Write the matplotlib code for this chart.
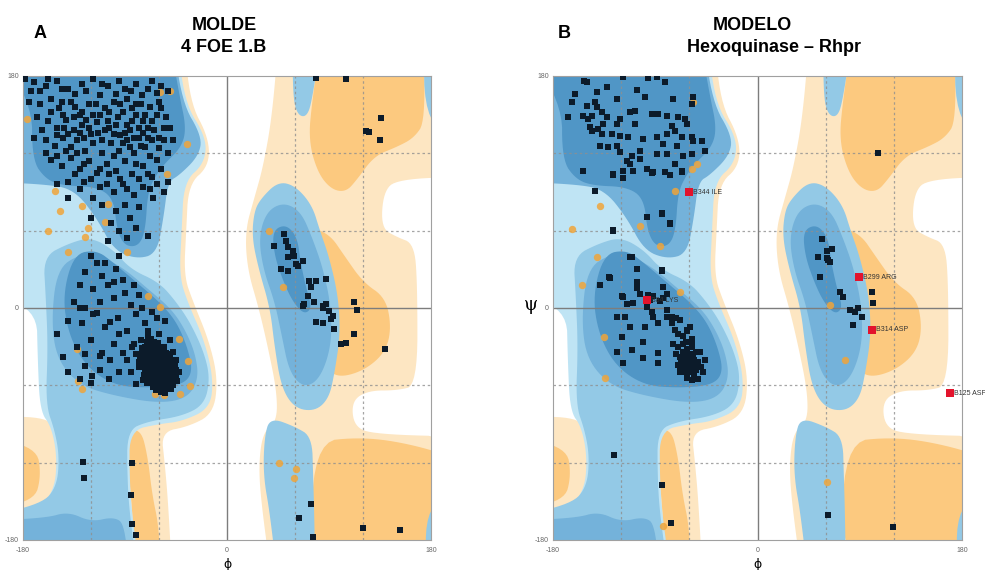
import numpy as np
import matplotlib
matplotlib.use("Agg")
import matplotlib.pyplot as plt
from matplotlib.patches import Polygon

# ---------------- DATA ----------------
panel_letters = ["A", "B"]
panel_titles = [["MOLDE", "4 FOE 1.B"], ["MODELO", "Hexoquinase \u2013 Rhpr"]]
axis_ticks = [-180, 0, 180]
grid_dashed = [-120, -60, 60, 120]

# background regions (phi, psi) shared by both panels
LO_a = [(46,180),(180,180),(180,102),(150,100),(138,90),(136,62),(150,55),(165,50),(168,20),(168,-60),(150,-64),(125,-64),(110,-72),(112,-92),(130,-98),(180,-100),(180,-180),(40,-180),(30,-150),(28,-120),(32,-96),(44,-88),(44,-65),(36,-30),(28,0),(18,30),(16,60),(24,85),(32,110),(40,150)]
LO_b = [(-44,180),(-38,180),(-33,160),(-16,132),(-16,110),(-34,96),(-36,60),(-38,25),(-30,5),(-16,-25),(-8,-55),(-12,-82),(-34,-92),(-58,-96),(-55,-120),(-52,-150),(-48,-180),(-100,-180),(-100,180)]
LO_d = [(-180,-85),(-162,-84),(-148,-95),(-145,-120),(-148,-145),(-165,-160),(-180,-165)]
O_a = [(84,180),(173,180),(175,145),(165,132),(150,125),(130,118),(115,100),(105,90),(92,92),(80,105),(72,130),(75,160)]
O_b = [(68,64),(90,58),(104,40),(120,20),(140,8),(145,-15),(140,-34),(122,-48),(100,-54),(88,-48),(80,-20),(72,20)]
O_c = [(-90,-96),(-76,-94),(-70,-115),(-66,-145),(-60,-170),(-58,-180),(-80,-180),(-84,-150),(-88,-120)]
O_d = [(-180,-100),(-168,-108),(-164,-130),(-170,-150),(-180,-156)]
O_e = [(75,-104),(120,-100),(165,-106),(180,-120),(180,-180),(75,-180)]
ENVELOPE = [(-180,180),(-44,180),(-38,160),(-18,132),(-20,112),(-38,98),(-40,60),(-42,25),(-35,5),(-20,-25),(-12,-55),(-15,-78),(-40,-88),(-60,-90),(-86,-95),(-86,-130),(-84,-160),(-75,-180),(-180,-180),(-180,-162),(-165,-155),(-152,-140),(-150,-115),(-155,-92),(-165,-80),(-167,-40),(-168,0),(-180,10)]
ALPHA_OUTER = [(-162,40),(-140,50),(-120,55),(-100,45),(-85,30),(-60,20),(-45,5),(-32,-12),(-20,-35),(-15,-55),(-20,-75),(-40,-84),(-70,-88),(-88,-95),(-88,-130),(-86,-160),(-77,-180),(-180,-180),(-180,-162),(-163,-152),(-150,-138),(-148,-115),(-152,-95),(-160,-75),(-158,-30),(-160,10)]
ALPHA_MID = [(-150,30),(-130,42),(-110,40),(-90,30),(-70,15),(-50,0),(-38,-15),(-28,-35),(-25,-55),(-35,-70),(-60,-74),(-100,-68),(-130,-60),(-150,-40),(-155,-10)]
ALPHA_CORE = [(-135,42),(-115,45),(-100,35),(-80,20),(-60,5),(-45,-10),(-35,-30),(-30,-50),(-40,-60),(-70,-62),(-100,-60),(-125,-45),(-140,-20),(-145,10)]
BOTTOM_BAND = [(-180,-180),(-180,-165),(-160,-163),(-140,-158),(-120,-166),(-100,-162),(-90,-168),(-86,-180)]
BETA_OUTER = [(-180,180),(-48,180),(-40,160),(-22,133),(-25,118),(-42,103),(-52,98),(-56,70),(-62,42),(-80,38),(-100,45),(-115,70),(-135,92),(-160,96),(-180,98)]
BETA_CORE = [(-180,180),(-52,180),(-42,165),(-36,140),(-40,125),(-55,112),(-62,104),(-70,90),(-72,60),(-78,48),(-90,48),(-97,60),(-100,85),(-115,94),(-145,95),(-160,100),(-172,115),(-172,160)]
LA_OUTER = [(30,85),(45,98),(60,95),(75,80),(82,60),(90,40),(98,10),(100,-20),(95,-50),(90,-70),(78,-80),(60,-78),(48,-62),(42,-30),(38,0),(28,30),(22,55),(24,75)]
LA_MID = [(35,75),(50,82),(65,75),(75,55),(85,30),(92,0),(92,-30),(82,-55),(68,-62),(55,-50),(48,-20),(42,5),(32,30),(28,55)]
LA_CORE = [(40,60),(52,65),(62,55),(65,35),(70,15),(75,0),(68,-5),(58,5),(50,20),(42,40)]
LBETA = [(38,-85),(60,-92),(75,-100),(76,-130),(77,-160),(78,-180),(45,-180),(38,-160),(32,-130),(33,-100)]
B_a = [(58,180),(84,180),(75,160),(70,148),(62,150),(58,165)]
B_b = [(173,180),(180,180),(180,130),(175,140)]
B_c = [(175,-150),(180,-145),(180,-180),(176,-180)]

# ---- Panel A points ----
A_black = [(-170,175),(-160,172),(-150,176),(-140,170),(-128,174),(-118,178),(-105,172),(-95,176),(-85,168),(-70,170),(-60,160),(-62,167),(-175,160),(-165,158),(-155,162),(-148,155),(-138,160),(-130,150),(-122,158),(-112,150),(-100,160),(-92,152),(-80,158),(-72,150),(-66,145),(-58,155),(-168,148),(-158,145),(-150,140),(-142,146),(-135,138),(-128,142),(-120,135),(-115,144),(-108,138),(-98,142),(-90,136),(-84,145),(-78,140),(-70,132),(-64,138),(-56,130),(-50,140),(-160,130),(-152,126),(-145,132),(-138,125),(-132,130),(-125,122),(-118,128),(-110,120),(-102,128),(-95,122),(-88,130),(-82,120),(-76,126),(-68,118),(-60,124),(-52,120),(-155,115),(-146,110),(-138,116),(-130,108),(-122,114),(-115,105),(-106,112),(-98,106),(-90,114),(-84,104),(-74,110),(-66,102),(-58,108),(-52,98),(-140,98),(-130,92),(-120,100),(-112,94),(-100,90),(-92,96),(-82,88),(-74,94),(-65,85),(-110,80),(-98,75),(-86,70),(-120,70),(-95,60),(-80,62),(-70,56),(-105,52),(-140,85),(-150,96),(-118,85),(-135,148),(-128,152),(-124,146),(-118,150),(-140,135),(-130,136),(-122,140),(-80,150),(-74,145),(-70,140),(-66,130),(-78,132),(-72,125),(-62,115),(-88,142),(-92,128),(-100,135),(-145,150),(-105,145),(-110,130),(-178,178),(-165,168),(-112,165),(-88,162),(-75,165),(-58,172),(-52,168),(-163,138),(-108,155),(-96,148),(-86,125),(-132,120),(-142,122),(-100,118),(-170,132),
           (-173,168),(-158,178),(-146,170),(-134,166),(-124,168),(-110,174),(-98,166),(-90,170),(-80,174),(-66,176),(-155,152),(-146,160),(-134,156),(-116,158),(-104,152),(-94,158),(-84,155),(-76,158),(-68,156),(-62,150),(-54,148),(-160,120),(-150,134),(-144,140),(-126,132),(-114,136),(-104,140),(-94,134),(-86,138),(-82,132),(-74,136),(-60,132),(-56,140),(-48,130),(-150,118),(-126,112),(-112,108),(-104,104),(-94,100),(-80,112),(-70,104),(-62,96),(-56,90),(-134,104),(-126,98),(-106,96),(-88,92),(-78,100),(-68,92),(-90,80),(-78,78),(-102,66),(-88,54),
           (-120,40),(-115,35),(-125,28),(-110,25),(-130,18),(-118,15),(-105,18),(-98,30),(-92,22),(-135,5),(-125,0),(-112,5),(-100,8),(-90,12),(-85,2),(-78,10),(-140,-10),(-128,-12),(-118,-5),(-108,-15),(-96,-8),(-88,-18),(-80,-5),(-72,-12),(-66,-3),(-132,-30),(-120,-25),(-110,-35),(-100,-28),(-92,-35),(-84,-30),(-76,-25),(-145,-38),(-125,-45),(-112,-48),(-104,-55),(-95,-50),(-120,-58),(-85,-50),(-55,-10),(-60,-20),(-70,-30),(-50,-25),(-45,-40),(-48,-55),(-130,-55),(-140,-50),(-150,-20),(-129.7,0.3),(-115,-3.6),(-103,-11),(-125,-36),(-119,-53),(-112,-37),(-103,-40),(-80,-59),(-71,-58),(-108,35),(-95,40),(-100,20),(-82,18),(-75,0),(-70,-18),(-62,-8),(-95,-20),(-88,-40),(-78,-42),
           (-72,-30),(-68,-28),(-64,-26),(-60,-30),(-56,-32),(-76,-36),(-70,-35),(-66,-33),(-62,-36),(-58,-38),(-54,-35),(-50,-36),(-74,-42),(-70,-40),(-67,-44),(-64,-40),(-61,-42),(-58,-44),(-55,-41),(-52,-43),(-49,-46),(-45,-48),(-78,-46),(-72,-48),(-68,-50),(-65,-47),(-62,-49),(-59,-51),(-56,-48),(-53,-50),(-50,-52),(-47,-54),(-70,-55),(-66,-56),(-63,-54),(-60,-57),(-57,-55),(-54,-58),(-51,-57),(-48,-60),(-65,-61),(-61,-62),(-58,-60),(-55,-63),(-52,-62),(-68,-38),(-62,-46),(-60,-40),(-57,-47),(-64,-52),(-66,-42),(-54,-45),(-59,-34),(-63,-31),(-69,-45),(-73,-52),(-80,-36),(-82,-28),(-76,-25),(-70,-22),(-48,-34),(-44,-57),(-58,-65),(-74,-56),(-42,-50),
           (-66,-38),(-60,-36),(-56,-38),(-62,-40),(-58,-42),(-64,-44),(-60,-46),(-56,-46),(-52,-48),(-66,-48),(-62,-50),(-58,-48),(-54,-52),(-60,-54),(-66,-52),(-70,-48),(-50,-40),(-46,-44),(-72,-44),(-52,-36),(-56,-30),(-68,-32),(-64,-58),(-56,-58),(-50,-60),(-46,-50),(-74,-34),
           (-71,-26),(-67,-24),(-61,-27),(-75,-31),(-71,-33),(-65,-30),(-61,-33),(-55,-37),(-51,-39),(-77,-39),(-73,-39),(-69,-41),(-65,-39),(-63,-37),(-59,-39),(-53,-39),(-48,-42),(-76,-44),(-71,-46),(-67,-47),(-63,-45),(-59,-45),(-55,-47),(-51,-45),(-47,-47),(-71,-52),(-67,-53),(-63,-51),(-59,-53),(-55,-54),(-51,-54),(-47,-57),(-45,-52),(-69,-57),(-65,-59),(-61,-59),(-57,-62),(-53,-60),(-49,-63),(-63,-64),(-59,-63),(-55,-66),
           (50.6,57.5),(52,52),(53.5,47),(41.8,48.4),(58,44.5),(59.4,40.6),(61,34.2),(62.4,32.9),(53.5,39.4),(47.7,30.3),(53.5,29),(66.8,36.8),(72.7,21.3),(78.5,21.3),(87.4,22.6),(74.1,16),(71.2,9.6),(77.1,4.5),(68.2,3.2),(84.4,1.9),(112.4,4.5),(87.4,3.2),(78.5,178.5),(105,177.7),(135.9,147.2),(122.6,137),(125.6,136.3),(135,130.4),(66.8,1.5),(84.4,0.3),(90.3,-2.3),(93.2,-6.2),(91.8,-8.8),(78.5,-10.9),(84.4,-11.4),(94.7,-16.6),(114.4,-1.6),(112.4,-20.4),(105,-26.9),(100.6,-28.2),(139.7,-31.5),(74.1,-151.8),(63.2,-162.7),(75.6,-177.7),(119.7,-170.4),(152.6,-172.2),
           (-127.3,-119.5),(-126.1,-131.6),(-84.1,-120),(-84.7,-145.3),(-84.1,-167.8),(-80.3,-176.4)]
A_orange = [(-176.7,146.7),(-59,167.4),(-35.5,127.3),(-53.2,104),(-151.7,90.6),(-147.3,75.6),(-128.2,79.5),(-104.7,80.7),(-107.6,66.5),(-157.6,60),(-122.3,62.1),(-125.2,54.9),(-88.5,43.3),(-140,43.3),(-69.4,9.6),(-59,0.6),(-132.6,-32),(-131.1,-56.6),(-128.2,-63.1),(-63.5,-67),(-55.5,-67.8),(-42,-24.3),(-34,-41.1),(-32.6,-60.5),(-41.4,-67),(46.2,-120.5),(60.9,-125.2),(59.4,-131.6),(37.4,60),(49.1,16.1),(-50,168)]

# ---- Panel B points ----
B_black = [(-153,176.4),(-150,175),(-160.6,166),(-163.5,159.6),(-150.3,157),(-143,159.6),(-132.7,171.3),(-141.5,167.4),(-118,179),(-96,178.5),(-88.7,179),(-81.4,175.1),(-106.3,169.2),(-99,164),(-74,162.2),(-56.4,163.5),(-57.9,158.3),(-141.5,155.7),(-153.3,149.3),(-146,149.3),(-137.1,151.9),(-132.7,148),(-124,142.8),(-121,146.7),(-112.2,151.9),(-107.8,153.2),(-93.1,150.6),(-87.2,150.6),(-79.9,149.3),(-69.6,148),(-63.8,146.7),(-62.3,142.8),(-75.5,141.5),(-72.6,137.6),(-79.9,135),(-66.7,132.5),(-57.9,132.5),(-56.4,129.9),(-49.1,129.9),(-46.2,122.1),(-88.7,132.5),(-82.8,127.3),(-88.7,119.5),(-79.9,119.5),(-71.1,126),(-65.2,118.2),(-57.9,119.5),(-72.6,111.8),(-66.7,106.6),(-81.4,105.3),(-91.6,105.3),(-97.5,107.9),(-103.4,122.1),(-103.4,115.7),(-110.7,118.2),(-115.1,114.4),(-121,120.8),(-124,126),(-131.2,124.7),(-138.6,126),(-137.1,135),(-146,137.6),(-128.3,135),(-121,133.8),(-113.6,132.5),(-107.8,142.8),(-100.4,131.2),(-112.2,111.8),(-118,106.6),(-126.8,104),(-153.3,106.6),(-143,91.1),(-109.3,106.6),(-97.5,70.4),(-84.3,73),(-77,65.2),(-126.8,60),(-147.4,140.2),(-148.9,146.7),(-166.4,148.5),(-135.6,142.8),(-140,139),(-123.9,162.2),
           (-126.9,103.2),(-118,100.6),(-93.1,104.5),(-77,103.2),(-66.7,105.8),(-84.3,73.4),(-77,65.7),(-126.9,60.5),
           (-112.2,39.4),(-106.3,30.3),(-130.4,24.4),(-138.6,18.2),(-106.3,20),(-119.5,9.6),(-103.4,11),(-84.3,29),(-82.8,16),(-91.6,9.6),(-85.8,5.7),(-115.1,3.2),(-79.9,11),
           (-129.8,23),(-110.7,39.8),(-84.3,29.5),(-106.3,15.2),(-118,8.8),(-109.3,3.6),(-116.6,-6.7),(-124,-6.7),(-119.5,-22.3),(-112.2,-14.5),(-100.5,-26.1),(-99,-14.5),(-91.7,-6.7),(-87.3,-11.9),(-79.9,-1.6),(-75.5,-6.7),(-68.2,-9.3),(-72.6,-17.1),(-62.3,-17.1),(-59.4,-14.5),(-57.9,-26.1),(-50.6,-33.9),(-46.2,-40.4),(-124,-33.9),(-110.7,-32.6),(-100.5,-39.1),(-118,-43),(-87.3,-35.2),(-87.3,-43),(-97.5,1),(-93.1,-2.9),(-94.6,6.2),(-96,10.1),(-82.8,7.5),(-79.9,-6.7),
           (-70,-20),(-66,-22),(-62,-18),(-58,-24),(-74,-28),(-70,-30),(-66,-28),(-62,-32),(-58,-30),(-54,-34),(-72,-36),(-68,-38),(-64,-36),(-60,-38),(-56,-40),(-52,-42),(-70,-44),(-66,-42),(-62,-44),(-58,-46),(-54,-48),(-50,-46),(-68,-50),(-64,-48),(-60,-50),(-56,-52),(-62,-54),(-58,-56),(-66,-34),(-60,-42),(-64,-40),(-57,-36),(-68,-46),(-55,-44),(-61,-48),(-63,-26),(-75,-12),(-72,-8),(-48,-50),(-52,-55),(-65,-45),(-59,-40),(-61,-36),(-63,-50),(-57,-50),(-67,-40),
           (56.5,53.3),(60.9,44.5),(65.3,45.5),(53.6,39.8),(60.9,38.5),(62.4,37.2),(63.8,35.9),(55,24.3),(72.7,12.7),(75.6,8.8),(81.5,-1.6),(88.8,-0.3),(85.9,-2.9),(91.8,-6.7),(84.4,-13.2),(100.5,12.7),(102,3.6),(106,120),
           (-83.7,-137.4),(-76.1,-166.6),(62.4,-160.7),(119.6,-169.7),(-126.3,-114)]
B_orange = [(-56.4,159.6),(-138.6,79.4),(-72.6,91.1),(-163.5,61.3),(-103.4,64),(-85.8,48.4),(-57.9,107.9),(-53.5,111.8),(-141.5,39.9),(-154.7,18.2),(63.8,2.3),(77.1,-40.4),(-135,-22.3),(-134.2,-54.6),(-68.2,12.7),(-82.8,-169.2),(61,-134.8)]
B_red = [(-60.3,90),(-97.3,6),(89.3,24),(100.8,-17),(169.4,-66)]
B_red_labels = ["B344 ILE", "B84 LYS", "B299 ARG", "B314 ASP", "B125 ASP"]

# ---------------- STYLE ----------------
C_LO, C_O = "#fde6c2", "#fcc97f"
C_CY, C_LB, C_MB, C_DB = "#bfe4f4", "#93c9e6", "#74b2da", "#5096c6"
LAYERS = [
    (C_LO, [LO_a, LO_b, LO_d]),
    (C_O, [O_a, O_b, O_c, O_d, O_e]),
    (C_CY, [ENVELOPE]),
    (C_LB, [ALPHA_OUTER, LA_OUTER, LBETA, B_a, B_b, B_c]),
    (C_MB, [BETA_OUTER, ALPHA_MID, LA_MID, BOTTOM_BAND]),
    (C_DB, [BETA_CORE, ALPHA_CORE, LA_CORE]),
]


def smooth(poly, n=3):
    p = np.array(poly, float)
    p[p >= 180] = 215
    p[p <= -180] = -215
    for _ in range(n):
        q = np.roll(p, -1, axis=0)
        out = np.empty((len(p) * 2, 2))
        out[0::2] = 0.75 * p + 0.25 * q
        out[1::2] = 0.25 * p + 0.75 * q
        p = out
    return p


def draw_panel(ax, black, orange, red=None, labels=None):
    ax.set_xlim(-180, 180)
    ax.set_ylim(-180, 180)
    ax.set_facecolor("white")
    for color, polys in LAYERS:
        for poly in polys:
            ax.add_patch(Polygon(smooth(poly), closed=True, fc=color, ec="none", zorder=1))
    for v in grid_dashed:
        ax.axvline(v, color="#8f8f8f", lw=0.9, ls=(0, (2, 2.2)), zorder=2, alpha=0.8)
        ax.axhline(v, color="#8f8f8f", lw=0.9, ls=(0, (2, 2.2)), zorder=2, alpha=0.8)
    ax.axvline(0, color="#7d7d7d", lw=1.0, zorder=2)
    ax.axhline(0, color="#7d7d7d", lw=1.0, zorder=2)
    o = np.array(orange)
    ax.scatter(o[:, 0], o[:, 1], s=28, c="#f0a53a", alpha=0.85, lw=0, zorder=3)
    b = np.array(black)
    ax.scatter(b[:, 0], b[:, 1], s=15, c="#0c1b2a", marker="s", lw=0, zorder=4)
    if red is not None:
        r = np.array(red)
        ax.scatter(r[:, 0], r[:, 1], s=28, c="#e3132c", marker="s", lw=0, zorder=5)
        for (x, y), t in zip(red, labels):
            ax.annotate(t, (x, y), xytext=(3, 0), textcoords="offset points",
                        fontsize=5, color="#333333", va="center", zorder=6,
                        annotation_clip=False)
    ax.set_xticks([])
    ax.set_yticks([])
    for s in ax.spines.values():
        s.set_color("#a0a0a0")
        s.set_linewidth(0.8)


plt.rcParams["font.family"] = ["Liberation Sans", "DejaVu Sans"]
fig = plt.figure(figsize=(9.85, 5.70), dpi=100)
W, H = 985.0, 570.0
axA = fig.add_axes([23 / W, 30 / H, 408 / W, 464 / H])
axB = fig.add_axes([553 / W, 30 / H, 409 / W, 464 / H])
draw_panel(axA, A_black, A_orange)
draw_panel(axB, B_black, B_orange, B_red, B_red_labels)

for ax, letter, title, lx, tx in [(axA, panel_letters[0], panel_titles[0], 40, 224),
                                  (axB, panel_letters[1], panel_titles[1], 564, 752)]:
    fig.text(lx / W, 1 - 33 / H, letter, fontsize=13, weight="bold", ha="center", va="center")
    fig.text(tx / W, 1 - 25 / H, title[0], fontsize=13, weight="bold", ha="center", va="center")
    fig.text((tx + (22 if letter == "B" else 0)) / W, 1 - 47 / H, title[1], fontsize=13,
             weight="bold", ha="center", va="center")
    # tick labels
    for t in axis_ticks:
        ax.annotate(str(t), (t, -180), xytext=(0, -5), textcoords="offset points",
                    fontsize=5, color="#666666", ha="center", va="top", annotation_clip=False)
        ax.annotate(str(t), (-180, t), xytext=(-3, 0), textcoords="offset points",
                    fontsize=5, color="#666666", ha="right", va="center", annotation_clip=False)
    ax.annotate("\u03d5", (0, -180), xytext=(0, -13), textcoords="offset points",
                fontsize=9, ha="center", va="top", annotation_clip=False,
                family=["DejaVu Sans"])

fig.text(531 / W, 1 - 305 / H, "\u03c8", fontsize=13, ha="center", va="center",
         family=["DejaVu Serif"])

fig.savefig("out.png", dpi=100)
